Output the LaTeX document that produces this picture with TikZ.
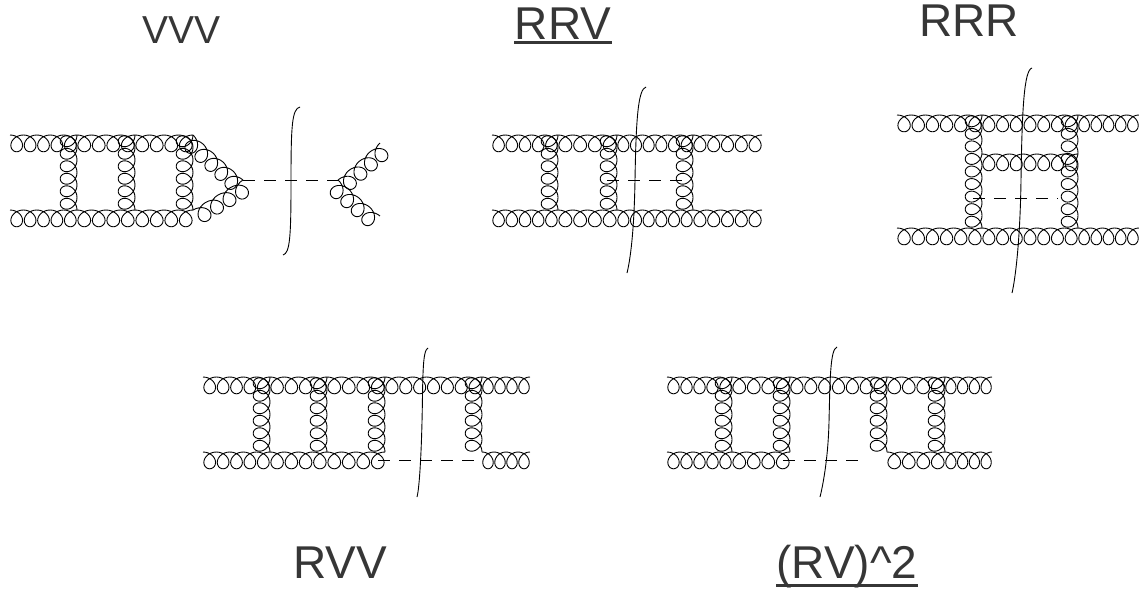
\documentclass[tikz,border=0pt]{standalone}
\usepackage{fontspec}
\setmainfont{Liberation Sans}
\usetikzlibrary{decorations,calc}
\definecolor{txt}{HTML}{363636}
% ---- gluon decoration: n whole loops, hanging on the right-hand side of the path
\newcount\glk
\newcount\gltot
\def\glwo{13.2}   % target loop spacing (pt)
\def\glA{8.4}     % half height of the coil (pt)
\def\glratio{4.2} % loop radius / advance radius
\def\glstep{%
  \advance\glk by 1
  \pgfmathsetmacro\glt{pi+\glk*pi/12}%
  \pgfmathsetmacro\glx{\glr*(\glt-pi)-\gld*sin(\glt r)}%
  \pgfmathsetmacro\gly{-\glA*cos(\glt r)-\glA}%
  \pgfpathlineto{\pgfpoint{\glx pt}{\gly pt}}%
  \ifnum\glk<\gltot\expandafter\glstep\fi}
\pgfdeclaredecoration{gluonline}{start}{
  \state{start}[width=0pt,next state=final]{
    \pgfmathsetmacro\glL{\pgfdecoratedpathlength}%
    \pgfmathtruncatemacro\gln{max(1,round(\glL/\glwo))}%
    \pgfmathsetmacro\glr{\glL/(\gln*2*pi)}%
    \pgfmathsetmacro\gld{\glr*\glratio}%
    \gltot=\gln \multiply\gltot by 24
    \glk=0
    \pgfpathlineto{\pgfpointorigin}%
    \glstep
  }
  \state{final}{}
}
\begin{document}
\begin{tikzpicture}[x=1pt,y=-1pt,line width=0.9pt,line join=round,
  gluon/.style={decorate,decoration={gluonline}},
  higgs/.style={dash pattern=on 12pt off 9pt},
  cutline/.style={line width=0.9pt},
  lbl/.style={text=txt,inner sep=0pt,anchor=base,font=\fontsize{46}{52}\selectfont},
  uline/.style={draw=txt,line width=3pt}]
\useasboundingbox (0,0) rectangle (1139,589);
% ---------------- labels
\node[lbl,font=\fontsize{39}{44}\selectfont] (tvvv) at (181.5,43) {VVV};
\node[lbl] (trrv) at (563,39) {RRV};
\draw[uline] ([yshift=-3.5pt]trrv.base west) -- ([yshift=-3.5pt]trrv.base east);
\node[lbl] (trrr) at (969,36) {RRR};
\node[lbl] (trvv) at (340,578) {RVV};
\node[lbl] (trv2) at (847,578) {(RV)\textasciicircum 2};
\draw[uline] ([yshift=-7pt]trv2.base west) -- ([yshift=-7pt]trv2.base east);
% ---------------- VVV
\coordinate (a1) at (10,135); \coordinate (a2) at (77,135);
\coordinate (a3) at (135,135); \coordinate (a4) at (193,135);
\coordinate (b1) at (10,210); \coordinate (b2) at (77,210);
\coordinate (b3) at (135,210); \coordinate (b4) at (193,210);
\coordinate (tip) at (243,180); \coordinate (rv) at (338,180);
\coordinate (rt) at (380,143); \coordinate (rb) at (380,216);
\draw[gluon] (a1) -- (a2); \draw[gluon] (a2) -- (a3); \draw[gluon] (a3) -- (a4);
\draw[gluon] (b1) -- (b2); \draw[gluon] (b2) -- (b3); \draw[gluon] (b3) -- (b4);
\draw[gluon] (a2) -- (b2); \draw[gluon] (a3) -- (b3); \draw[gluon] (a4) -- (b4);
\draw[gluon] (a4) -- (tip); \draw[gluon] (b4) -- (tip);
\draw[higgs] (tip) -- (rv);
\draw[gluon] (rv) -- (rt); \draw[gluon] (rv) -- (rb);
\coordinate (c1t) at (300,107); \coordinate (c1m) at (291,181); \coordinate (c1b) at (283,255);
\draw[cutline] (c1t) .. controls +(-8,2) and +(0,-56) .. (c1m) .. controls +(0,56) and +(7,-2) .. (c1b);
% ---------------- RRV
\coordinate (e1) at (492,135); \coordinate (e2) at (558,135); \coordinate (e3) at (617,135);
\coordinate (e4) at (693,135); \coordinate (e5) at (762,135);
\coordinate (f1) at (492,210); \coordinate (f2) at (558,210); \coordinate (f3) at (617,210);
\coordinate (f4) at (693,210); \coordinate (f5) at (762,210);
\coordinate (h1) at (607,180); \coordinate (h2) at (685,180);
\draw[gluon] (e1) -- (e2); \draw[gluon] (e2) -- (e3); \draw[gluon] (e3) -- (e4); \draw[gluon] (e4) -- (e5);
\draw[gluon] (f1) -- (f2); \draw[gluon] (f2) -- (f3); \draw[gluon] (f3) -- (f4); \draw[gluon] (f4) -- (f5);
\draw[gluon] (e2) -- (f2); \draw[gluon] (e3) -- (f3); \draw[gluon] (e4) -- (f4);
\draw[higgs] (h1) -- (h2);
\coordinate (c2t) at (646,87); \coordinate (c2m) at (635,180); \coordinate (c2b) at (627,273);
\draw[cutline] (c2t) .. controls +(-8,2) and +(1,-60) .. (c2m) .. controls +(-1,60) and +(2,-8) .. (c2b);
% ---------------- RRR
\coordinate (g1) at (897,115); \coordinate (g2) at (982,115); \coordinate (g3) at (1078,115); \coordinate (g4) at (1139,115);
\coordinate (k1) at (897,228); \coordinate (k2) at (982,228); \coordinate (k3) at (1078,228); \coordinate (k4) at (1139,228);
\coordinate (m1) at (982,154); \coordinate (m2) at (1078,154);
\coordinate (n1) at (973,198); \coordinate (n2) at (1058,198);
\draw[gluon] (g1) -- (g2); \draw[gluon] (g2) -- (g3); \draw[gluon] (g3) -- (g4);
\draw[gluon] (k1) -- (k2); \draw[gluon] (k2) -- (k3); \draw[gluon] (k3) -- (k4);
\draw[gluon] (g2) -- (k2); \draw[gluon] (g3) -- (k3);
\draw[gluon] (m1) -- (m2);
\draw[higgs] (n1) -- (n2);
\coordinate (c3t) at (1032,68); \coordinate (c3m) at (1021,180); \coordinate (c3b) at (1012,293);
\draw[cutline] (c3t) .. controls +(-8,2) and +(1,-70) .. (c3m) .. controls +(-1,70) and +(2,-8) .. (c3b);
% ---------------- RVV
\coordinate (p1) at (203,377); \coordinate (p2) at (270,377); \coordinate (p3) at (327,377);
\coordinate (p4) at (385,377); \coordinate (p5) at (482,377); \coordinate (p6) at (530,377);
\coordinate (q1) at (203,452); \coordinate (q2) at (270,452); \coordinate (q3) at (327,452);
\coordinate (q4) at (385,452); \coordinate (q5) at (482,452); \coordinate (q6) at (530,452);
\coordinate (u1) at (378,460); \coordinate (u2) at (474,460);
\draw[gluon] (p1) -- (p2); \draw[gluon] (p2) -- (p3); \draw[gluon] (p3) -- (p4);
\draw[gluon] (p4) -- (p5); \draw[gluon] (p5) -- (p6);
\draw[gluon] (q1) -- (q2); \draw[gluon] (q2) -- (q3); \draw[gluon] (q3) -- (q4);
\draw[higgs] (u1) -- (u2); \draw[gluon] (q5) -- (q6);
\draw[gluon] (p2) -- (q2); \draw[gluon] (p3) -- (q3); \draw[gluon] (p4) -- (q4); \draw[gluon] (p5) -- (q5);
\coordinate (c4t) at (428,348); \coordinate (c4m) at (422,422); \coordinate (c4b) at (417,497);
\draw[cutline] (c4t) .. controls +(-6,2) and +(1,-40) .. (c4m) .. controls +(-1,40) and +(2,-7) .. (c4b);
% ---------------- (RV)^2
\coordinate (r1) at (667,377); \coordinate (r2) at (732,377); \coordinate (r3) at (790,377);
\coordinate (r4) at (887,377); \coordinate (r5) at (945,377); \coordinate (r6) at (992,377);
\coordinate (s1) at (667,452); \coordinate (s2) at (732,452); \coordinate (s3) at (790,452);
\coordinate (s4) at (887,452); \coordinate (s5) at (945,452); \coordinate (s6) at (992,452);
\coordinate (v1) at (783,460); \coordinate (v2) at (865,460);
\draw[gluon] (r1) -- (r2); \draw[gluon] (r2) -- (r3); \draw[gluon] (r3) -- (r4);
\draw[gluon] (r4) -- (r5); \draw[gluon] (r5) -- (r6);
\draw[gluon] (s1) -- (s2); \draw[gluon] (s2) -- (s3); \draw[higgs] (v1) -- (v2);
\draw[gluon] (s4) -- (s5); \draw[gluon] (s5) -- (s6);
\draw[gluon] (r2) -- (s2); \draw[gluon] (r3) -- (s3); \draw[gluon] (r4) -- (s4); \draw[gluon] (r5) -- (s5);
\coordinate (c5t) at (837,347); \coordinate (c5m) at (829,422); \coordinate (c5b) at (820,497);
\draw[cutline] (c5t) .. controls +(-7,2) and +(1,-40) .. (c5m) .. controls +(-1,40) and +(2,-8) .. (c5b);
\end{tikzpicture}
\end{document}
